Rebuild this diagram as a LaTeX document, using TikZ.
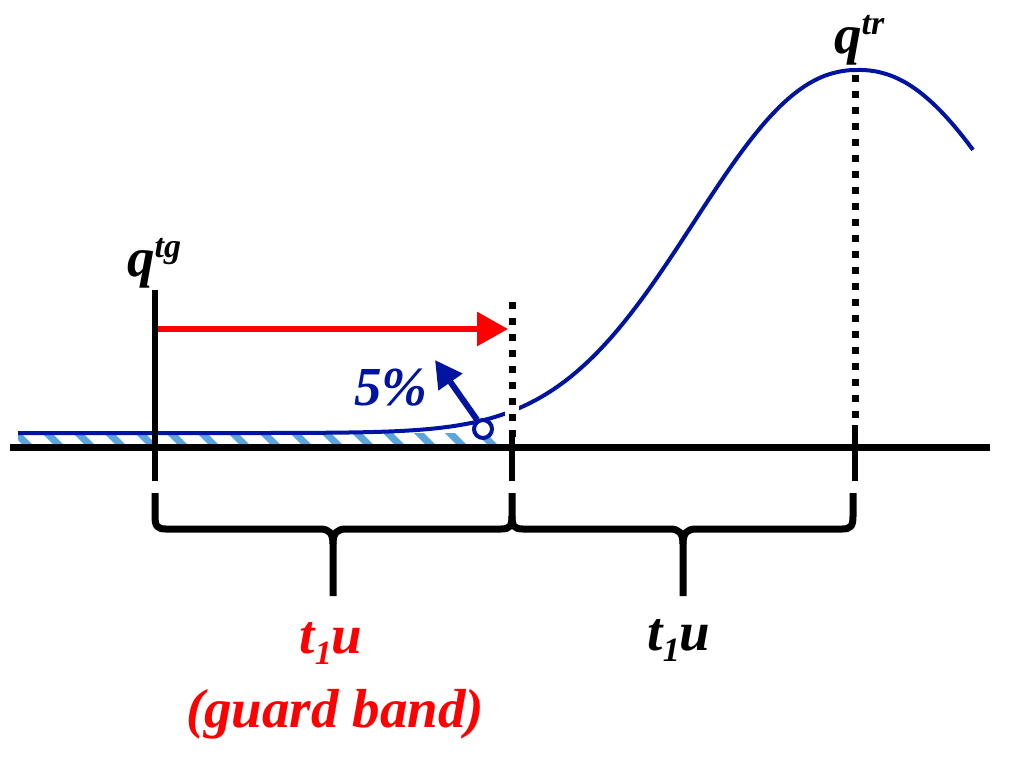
\documentclass[tikz,border=0pt]{standalone}
\usepackage{fontspec}
\setmainfont{Liberation Serif}
\usetikzlibrary{arrows.meta}
\definecolor{cblue}{RGB}{0,20,160}
\definecolor{hblue}{RGB}{90,165,220}
\definecolor{cred}{RGB}{255,0,0}
\begin{document}
\begin{tikzpicture}[x=1pt,y=-1pt,
  lbl/.style={font=\fontsize{55}{60}\selectfont\bfseries\itshape, inner sep=0pt, anchor=base},
  dotline/.style={line width=7pt, dash pattern=on 7pt off 9pt, black},
  solidline/.style={line width=6pt, black},
  bracepath/.style={line width=7pt, black, line join=round},
  curvestyle/.style={cblue, line width=4pt},
  declare function={bell(\t)=433-363*exp(-0.5*pow((abs(\t-858)+0.01)/158,2.2));}]
\useasboundingbox (0,0) rectangle (1024,764);
% named coordinates
\coordinate (axL) at (10,447);
\coordinate (axR) at (990,447);
\coordinate (vT) at (155,290);
\coordinate (vB) at (155,481);
\coordinate (d1T) at (512,302);
\coordinate (d1M) at (512,437);
\coordinate (d1B) at (512,481);
\coordinate (d2T) at (855,75);
\coordinate (d2M) at (855,425);
\coordinate (d2B) at (855,481);
\coordinate (raS) at (158,329);
\coordinate (raE) at (508,329);
\coordinate (baE) at (435,360);
% hatch
\begin{scope}
  \clip (18,400) rectangle (505,446);
  \clip (18,446) -- plot[domain=18:512, samples=60] (\x,{bell(\x)}) -- (512,446) -- cycle;
  \foreach \x in {-20,11,...,530} \fill[hblue] (\x,433) -- ++(10,0) -- ++(14,14) -- ++(-10,0) -- cycle;
\end{scope}
% curve
\draw[curvestyle] plot[domain=18:973, samples=240, smooth] (\x,{bell(\x)});
\draw[white, line width=14pt] (512,398) -- (512,424);
% axis and verticals
\draw[line width=7pt, black] (axL) -- (axR);
\draw[solidline] (vT) -- (vB);
\draw[dotline] (d1T) -- (d1M);
\draw[solidline] (d1M) -- (d1B);
\draw[dotline] (d2T) -- (d2M);
\draw[solidline] (d2M) -- (d2B);
% red arrow
\draw[cred, line width=6pt, -{Triangle[length=31pt,width=33pt]}] (raS) -- (raE);
% 5% point and arrow
\node[circle, draw=cblue, line width=4pt, fill=white, minimum size=18pt, inner sep=0pt] (pt) at (483,429) {};
\draw[cblue, line width=6pt, -{Triangle[length=27pt,width=28pt]}] (pt.123) -- (baE);
% braces
\draw[bracepath] (155,493) -- (155,516) .. controls (155,526) and (157,529) .. (166,529) -- (320,529) .. controls (329,529) and (333,533) .. (333,544) -- (333,596);
\draw[bracepath] (512,493) -- (512,516) .. controls (512,526) and (510,529) .. (501,529) -- (346,529) .. controls (337,529) and (333,533) .. (333,544);
\draw[bracepath] (512,516) .. controls (512,526) and (514,529) .. (523,529) -- (670,529) .. controls (679,529) and (683,533) .. (683,544) -- (683,596);
\draw[bracepath] (853,493) -- (853,516) .. controls (853,526) and (851,529) .. (842,529) -- (696,529) .. controls (687,529) and (683,533) .. (683,544);
% labels
\node[lbl, anchor=base west] (qtg) at (127,276) {q\raisebox{19pt}{\fontsize{34}{34}\selectfont tg}};
\node[lbl, anchor=base west] (qtr) at (834,53) {q\raisebox{19pt}{\fontsize{34}{34}\selectfont tr}};
\node[lbl, text=cblue, anchor=base west] (pct) at (354,405) {5\%};
\node[lbl, text=cred] (g1) at (331,653) {t\raisebox{-11pt}{\fontsize{34}{34}\selectfont 1}u};
\node[lbl, text=cred] (g2) at (335,727) {(guard band)};
\node[lbl] (t2) at (679,650) {t\raisebox{-11pt}{\fontsize{34}{34}\selectfont 1}u};
\end{tikzpicture}
\end{document}
